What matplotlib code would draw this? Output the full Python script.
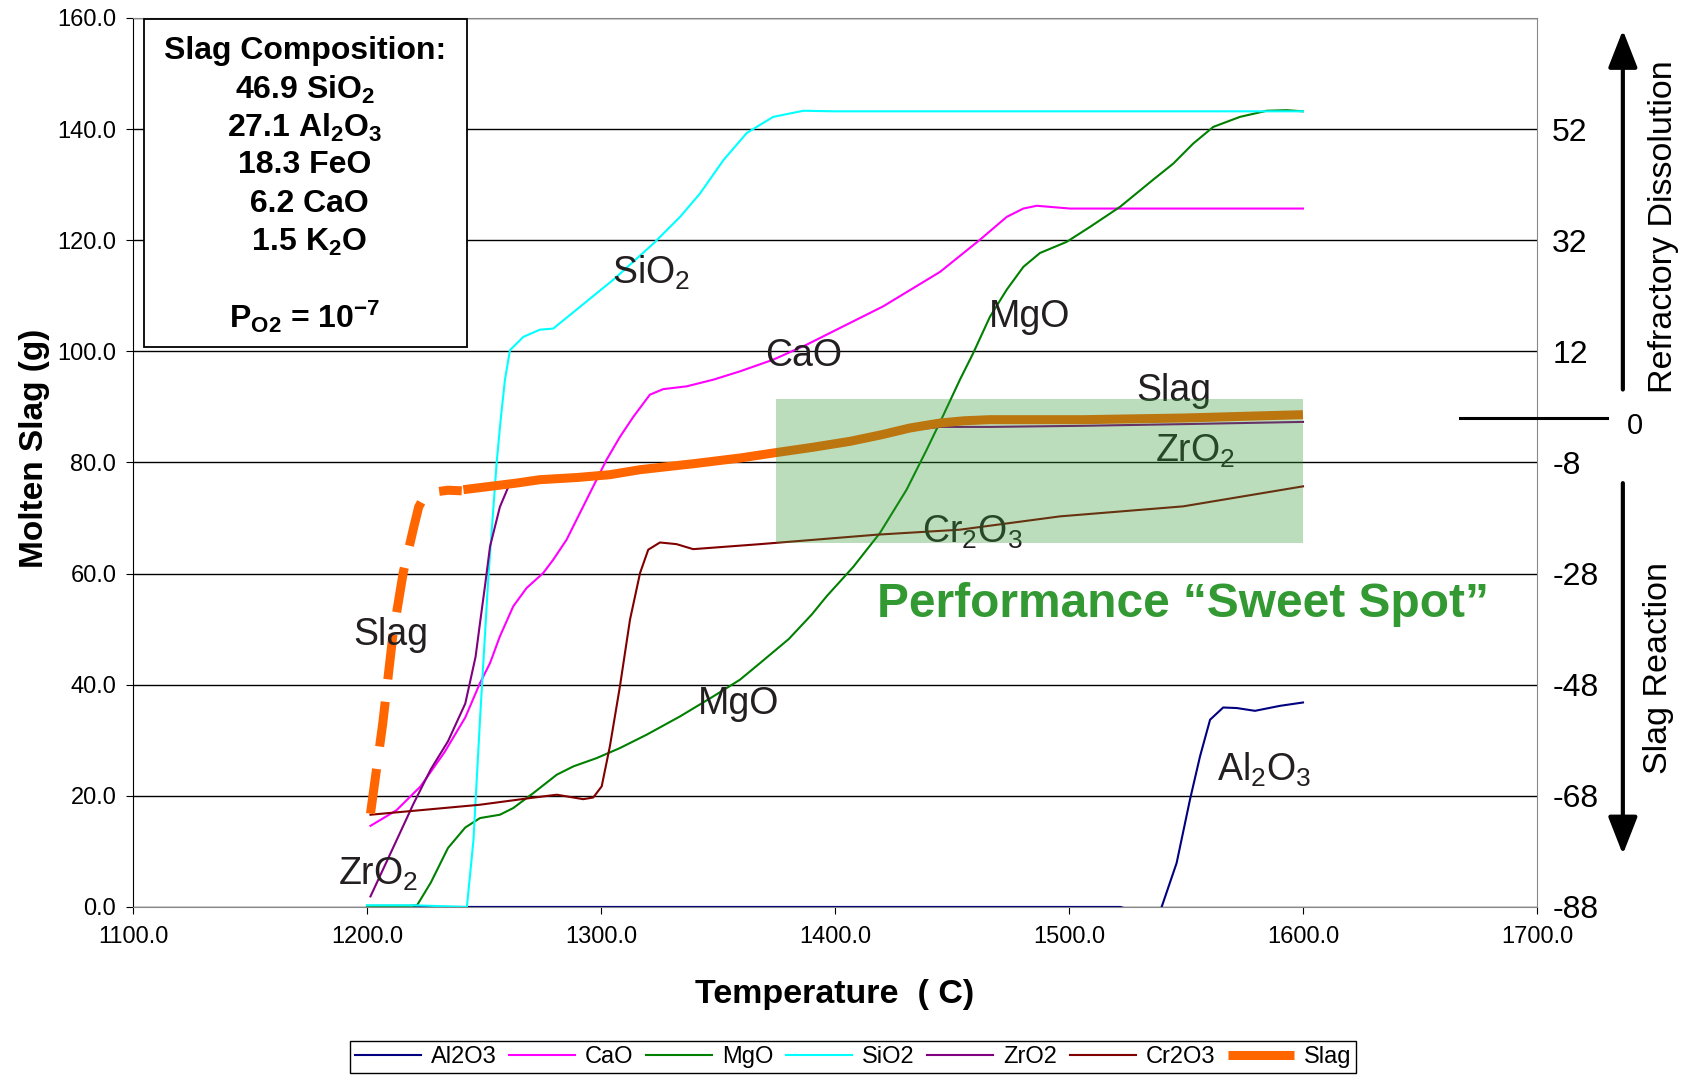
import numpy as np
import matplotlib
matplotlib.use("Agg")
import matplotlib.pyplot as plt
from matplotlib.patches import Rectangle

plt.rcParams['font.family'] = ['Liberation Sans', 'DejaVu Sans']
plt.rcParams['mathtext.fontset'] = 'custom'
plt.rcParams['mathtext.rm'] = 'Liberation Sans'
plt.rcParams['mathtext.it'] = 'Liberation Sans:italic'
plt.rcParams['mathtext.bf'] = 'Liberation Sans:bold'
plt.rcParams['axes.unicode_minus'] = False

# data (temperature C, molten slag g)
al2o3_t = [1220, 1300, 1400, 1500, 1522, 1525, np.nan, 1539.6, 1546, 1551.7, 1556, 1560.3, 1565.9, 1571.7, 1579.5, 1590.2, 1600]
al2o3_v = [0, 0, 0, 0, 0, -0.4, np.nan, 0, 7.9, 19.3, 27.1, 33.7, 35.9, 35.8, 35.3, 36.2, 36.8]

cao_t = [1201.5, 1212.6, 1222.9, 1233.2, 1242.0, 1248.3, 1252.6, 1256.8, 1262.5, 1268.2, 1275.3, 1279.6, 1285.3,
         1291, 1296.7, 1302.4, 1308.1, 1313.8, 1320.9, 1326.6, 1336.6, 1348, 1359.4, 1373.6, 1387.9, 1402.1,
         1420.6, 1444.9, 1462, 1473.4, 1480.5, 1486.2, 1491.9, 1500.4, 1550, 1600]
cao_v = [14.6, 17.4, 21.7, 27.9, 34.1, 40.3, 43.9, 48.7, 54.1, 57.4, 60.1, 62.5, 66.1,
         70.9, 75.7, 80.5, 84.6, 88.2, 92.2, 93.2, 93.7, 94.9, 96.4, 98.5, 101.2, 104.2,
         108.1, 114.3, 120.1, 124.2, 125.7, 126.2, 126.0, 125.7, 125.7, 125.7]

mgo_t = [1200, 1218, 1221.4, 1227.3, 1234.6, 1242.0, 1248.3, 1256.8, 1262.5, 1271.1, 1281.1, 1288.2, 1298.2, 1308.1,
         1319.5, 1333.8, 1348, 1359.4, 1368, 1380.2, 1390, 1396.4, 1407.8, 1419.2, 1430.6, 1439.2, 1446.3, 1453.4,
         1459.1, 1466.2, 1473.4, 1480.5, 1487.6, 1499, 1509, 1521.8, 1536, 1544.6, 1553.1, 1561.7, 1573.1, 1584.5,
         1593.1, 1600]
mgo_v = [0.2, 0.2, 0.3, 4.4, 10.6, 14.3, 16.0, 16.6, 17.8, 20.5, 23.8, 25.3, 26.8, 28.6,
         31.0, 34.3, 37.9, 40.9, 43.9, 48.2, 52.6, 55.9, 61.2, 67.3, 75.1, 82.3, 88.5, 94.9,
         99.7, 106.2, 111.1, 115.2, 117.7, 119.7, 122.4, 126.0, 130.9, 133.8, 137.4, 140.4, 142.2, 143.3,
         143.4, 143.2]

sio2_t = [1200, 1220, 1242.7, 1245.5, 1248.3, 1251.8, 1255.4, 1257.2, 1259, 1261.1, 1266.8, 1273.9, 1279.6, 1291.0,
          1305.3, 1322.4, 1333.8, 1342.3, 1352.3, 1362.3, 1373.6, 1386.5, 1399.3, 1450, 1500, 1550, 1600]
sio2_v = [0.3, 0.3, 0, 12, 33.7, 58.9, 79.9, 88, 95, 100.2, 102.6, 103.9, 104.1, 108.0,
          112.9, 119.4, 124.2, 128.4, 134.4, 139.3, 142.2, 143.3, 143.2, 143.2, 143.2, 143.2, 143.2]

zro2_t = [1201.5, 1211.1, 1219.9, 1227.3, 1234.6, 1242.0, 1246.4, 1248.3, 1250.5, 1252.6, 1256.8, 1261.1, 1266.8,
          1271.8, 1303.8, 1359.4, 1410.7, 1427.8, 1444.9, 1466.2, 1506.1, 1548.8, 1600]
zro2_v = [1.9, 10.6, 18.6, 24.8, 29.8, 36.6, 45, 51.1, 58, 64.9, 72.0, 76.3, 77.0,
          77.0, 77.6, 80.6, 84.2, 85.6, 86.4, 86.4, 86.6, 86.9, 87.3]

cr2o3_t = [1201.5, 1225, 1248.3, 1269.7, 1281.1, 1292.4, 1296.7, 1300.3, 1303.8, 1308.1, 1312.4, 1316.7, 1320.2,
           1325.2, 1332.3, 1339.4, 1368, 1417.8, 1453.4, 1496.2, 1548.8, 1600]
cr2o3_v = [16.6, 17.5, 18.4, 19.6, 20.2, 19.4, 19.7, 21.7, 28.9, 39.7, 51.7, 60.1, 64.3,
           65.6, 65.3, 64.4, 65.3, 67.0, 67.9, 70.3, 72.1, 75.7]

# slag: dashed start, then solid
slag_dash_t = [1201.5, 1206.7, 1211.1, 1215.5, 1219.9, 1222.1, 1224.5, 1227.3, 1234.6, 1240.5]
slag_dash_v = [16.8, 32.9, 49, 60.2, 68.2, 72.0, 73.8, 74.6, 75.0, 74.9]
slag_t = [1241.2, 1264.1, 1273.9, 1290, 1303.8, 1316.7, 1340, 1359.4, 1373.6, 1390, 1406.4, 1420, 1432,
          1444.9, 1455, 1466.2, 1506.1, 1548.8, 1600]
slag_v = [75.1, 76.3, 76.9, 77.3, 77.8, 78.7, 79.8, 80.8, 81.7, 82.7, 83.8, 85.0, 86.2,
          87.1, 87.5, 87.7, 87.7, 88.0, 88.6]

box_lines = ['Slag Composition:', r'46.9 SiO$_\mathbf{2}$', r'27.1 Al$_\mathbf{2}$O$_\mathbf{3}$', '18.3 FeO',
             ' 6.2 CaO', r' 1.5 K$_\mathbf{2}$O', r'P$_\mathbf{O2}$ = 10$^\mathbf{-7}$']
box_y = [0.9631, 0.9193, 0.8768, 0.8343, 0.7905, 0.7480, 0.6641]

fig = plt.figure(figsize=(16.94, 10.76), dpi=100)
ax = fig.add_axes([0.0785, 0.1571, 0.8288, 0.8262])

lab_color = '#231f20'
ax.plot(al2o3_t, al2o3_v, color='#000080', lw=1.5, label='Al2O3')
ax.plot(cao_t, cao_v, color='#ff00ff', lw=1.5, label='CaO')
ax.plot(mgo_t, mgo_v, color='#008000', lw=1.5, label='MgO')
ax.plot(sio2_t, sio2_v, color='#00ffff', lw=1.5, label='SiO2')
ax.plot(zro2_t, zro2_v, color='#800080', lw=1.5, label='ZrO2')
ax.plot(cr2o3_t, cr2o3_v, color='#800000', lw=1.5, label='Cr2O3')
ax.plot(slag_dash_t, slag_dash_v, color='#ff6600', lw=6.5, ls=(0, (5, 2.5)), solid_capstyle='butt')
ax.plot(slag_t, slag_v, color='#ff6600', lw=6.5, label='Slag', solid_capstyle='butt')

ax.set_xlim(1100, 1700)
ax.set_ylim(0, 160)
ax.set_xticks(np.arange(1100, 1701, 100))
ax.set_yticks(np.arange(0, 161, 20))
ax.xaxis.set_major_formatter(matplotlib.ticker.FormatStrFormatter('%.1f'))
ax.yaxis.set_major_formatter(matplotlib.ticker.FormatStrFormatter('%.1f'))
ax.tick_params(axis='both', labelsize=17, direction='out', length=5)
ax.tick_params(axis='x', pad=9)
ax.tick_params(axis='y', pad=7)
ax.grid(axis='y', color='black', lw=1)
ax.set_axisbelow(True)
for s in ['top', 'right', 'bottom']:
    ax.spines[s].set_color('#888888')
ax.spines['left'].set_color('black')
ax.set_xlabel('Temperature  ( C)', fontsize=24.5, fontweight='bold')
ax.set_ylabel('Molten Slag (g)', fontsize=24, fontweight='bold')
ax.xaxis.set_label_coords(0.5, -0.081)
ax.yaxis.set_label_coords(-0.059, 0.516)

ax2 = ax.twinx()
ax2.set_position(ax.get_position())
ax2.set_ylim(-88, 72)
ax2.set_yticks(np.arange(-88, 53, 20))
ax2.tick_params(axis='y', labelsize=23, length=0, pad=11)
for s in ax2.spines.values():
    s.set_visible(False)

# curve labels
labels = [('SiO$_2$', 1321.6, 114.1), ('CaO', 1386.8, 99.1), ('MgO', 1483.2, 106.1), ('Slag', 1545, 92.9),
          ('ZrO$_2$', 1553.8, 82), ('Cr$_2$O$_3$', 1458.7, 67.4), ('Slag', 1210.3, 48.9), ('MgO', 1359, 36.5),
          ('Al$_2$O$_3$', 1583.3, 24.6), ('ZrO$_2$', 1204.7, 5.8)]
for txt, x, y in labels:
    ax.text(x, y, txt, fontsize=27, color=lab_color, ha='center', va='center', zorder=4)

# sweet spot
ax.add_patch(Rectangle((1375, 65.5), 225, 25.9, facecolor='#339933', alpha=0.33, edgecolor='none', zorder=5))
ax.text(1548.7, 54.4, 'Performance \u201cSweet Spot\u201d', fontsize=34.5, fontweight='bold', color='#339933',
        ha='center', va='center', zorder=6)

# composition box
ax.add_patch(Rectangle((0.0078, 0.630), 0.2301, 0.3689, transform=ax.transAxes, facecolor='white',
                       edgecolor='black', lw=1.3, zorder=7))
for t, y in zip(box_lines, box_y):
    ax.text(0.1225, y, t, transform=ax.transAxes, fontsize=23, fontweight='bold', ha='center', va='center', zorder=8)

# right side annotation
ax2.plot([1667, 1730], [0, 0], color='black', lw=2.2, clip_on=False)
ax2.text(1742, -1.5, '0', fontsize=21, ha='center', va='center', clip_on=False)
arrow = dict(arrowstyle='-|>,head_length=1.15,head_width=0.45', lw=3, color='black', mutation_scale=20, shrinkA=0, shrinkB=0)
ax.annotate('', xy=(0.958, 0.972), xytext=(0.958, 0.638), xycoords='figure fraction', textcoords='figure fraction',
            arrowprops=arrow, annotation_clip=False)
ax.annotate('', xy=(0.958, 0.206), xytext=(0.958, 0.551), xycoords='figure fraction', textcoords='figure fraction',
            arrowprops=arrow, annotation_clip=False)
fig.text(0.982, 0.789, 'Refractory Dissolution', rotation=90, fontsize=24.5, ha='center', va='center')
fig.text(0.979, 0.379, 'Slag Reaction', rotation=90, fontsize=24.5, ha='center', va='center')

handles, labs = ax.get_legend_handles_labels()
fig.legend(handles, labs, loc='center', bbox_to_anchor=(0.5035, 0.0177), ncol=7, fontsize=17, frameon=True,
           fancybox=False, edgecolor='black', handlelength=2.8, columnspacing=0.55, handletextpad=0.4,
           borderpad=0.2, framealpha=1)

fig.savefig('out.png', dpi=100)
